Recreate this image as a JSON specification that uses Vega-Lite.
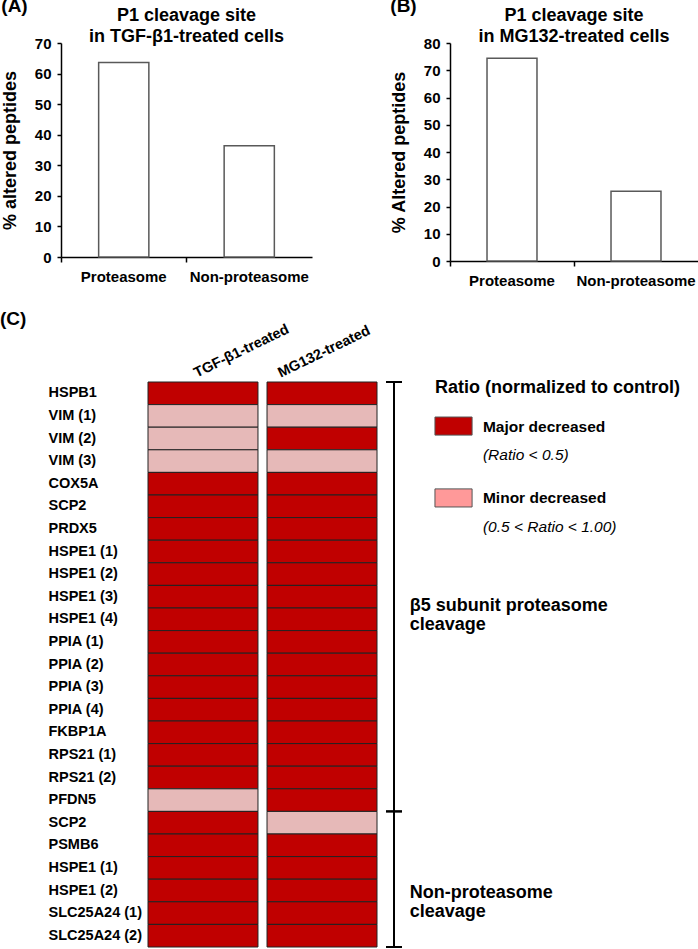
{
  "$schema": "https://vega.github.io/schema/vega-lite/v6.json",
  "padding": {"left": 0, "top": -3, "right": 0, "bottom": 0},
  "background": "white",
  "config": {
    "font": "Liberation Sans",
    "view": {"stroke": null},
    "axis": {"labelFont": "Liberation Sans", "titleFont": "Liberation Sans", "labelFontWeight": "bold", "titleFontWeight": "bold", "labelColor": "#000", "titleColor": "#000", "domainColor": "#000", "tickColor": "#000", "grid": false, "domainWidth": 1.5, "tickWidth": 1.5},
    "title": {"font": "Liberation Sans", "fontWeight": "bold", "color": "#000"},
    "text": {"font": "Liberation Sans"}
  },
  "datasets": {
    "peptides": [
      {"peptide": "HSPB1", "TGF-β1-treated": "Major", "MG132-treated": "Major"},
      {"peptide": "VIM (1)", "TGF-β1-treated": "Minor", "MG132-treated": "Minor"},
      {"peptide": "VIM (2)", "TGF-β1-treated": "Minor", "MG132-treated": "Major"},
      {"peptide": "VIM (3)", "TGF-β1-treated": "Minor", "MG132-treated": "Minor"},
      {"peptide": "COX5A", "TGF-β1-treated": "Major", "MG132-treated": "Major"},
      {"peptide": "SCP2", "TGF-β1-treated": "Major", "MG132-treated": "Major"},
      {"peptide": "PRDX5", "TGF-β1-treated": "Major", "MG132-treated": "Major"},
      {"peptide": "HSPE1 (1)", "TGF-β1-treated": "Major", "MG132-treated": "Major"},
      {"peptide": "HSPE1 (2)", "TGF-β1-treated": "Major", "MG132-treated": "Major"},
      {"peptide": "HSPE1 (3)", "TGF-β1-treated": "Major", "MG132-treated": "Major"},
      {"peptide": "HSPE1 (4)", "TGF-β1-treated": "Major", "MG132-treated": "Major"},
      {"peptide": "PPIA (1)", "TGF-β1-treated": "Major", "MG132-treated": "Major"},
      {"peptide": "PPIA (2)", "TGF-β1-treated": "Major", "MG132-treated": "Major"},
      {"peptide": "PPIA (3)", "TGF-β1-treated": "Major", "MG132-treated": "Major"},
      {"peptide": "PPIA (4)", "TGF-β1-treated": "Major", "MG132-treated": "Major"},
      {"peptide": "FKBP1A", "TGF-β1-treated": "Major", "MG132-treated": "Major"},
      {"peptide": "RPS21 (1)", "TGF-β1-treated": "Major", "MG132-treated": "Major"},
      {"peptide": "RPS21 (2)", "TGF-β1-treated": "Major", "MG132-treated": "Major"},
      {"peptide": "PFDN5", "TGF-β1-treated": "Minor", "MG132-treated": "Major"},
      {"peptide": "SCP2#2", "TGF-β1-treated": "Major", "MG132-treated": "Minor"},
      {"peptide": "PSMB6", "TGF-β1-treated": "Major", "MG132-treated": "Major"},
      {"peptide": "HSPE1 (1)#2", "TGF-β1-treated": "Major", "MG132-treated": "Major"},
      {"peptide": "HSPE1 (2)#2", "TGF-β1-treated": "Major", "MG132-treated": "Major"},
      {"peptide": "SLC25A24 (1)", "TGF-β1-treated": "Major", "MG132-treated": "Major"},
      {"peptide": "SLC25A24 (2)", "TGF-β1-treated": "Major", "MG132-treated": "Major"}
    ]
  },
  "columns": 1,
  "align": "none",
  "spacing": 21,
  "concat": [
    {
      "spacing": 78,
      "hconcat": [
        {
          "title": {"text": "(A)", "anchor": "start", "frame": "bounds", "fontSize": 19, "offset": -9},
          "vconcat": [
            {
              "title": {"text": ["P1 cleavage site", "in TGF-β1-treated cells"], "fontSize": 18, "lineHeight": 21, "anchor": "middle", "offset": -10},
              "width": 251,
              "height": 214,
              "data": {"values": [{"site": "Proteasome", "pct": 63.6}, {"site": "Non-proteasome", "pct": 36.4}]},
              "mark": {"type": "bar", "width": {"band": 0.4}, "fill": "white", "stroke": "#595959", "strokeWidth": 1.5},
              "encoding": {
                "x": {"field": "site", "type": "nominal", "sort": null, "scale": {"paddingInner": 0, "paddingOuter": 0},
                  "axis": {"title": null, "labelAngle": 0, "bandPosition": 0, "tickSize": 5, "labelPadding": 7, "labelFontSize": 15}},
                "y": {"field": "pct", "type": "quantitative", "scale": {"domain": [0, 70], "nice": false},
                  "axis": {"title": "% altered peptides", "values": [0, 10, 20, 30, 40, 50, 60, 70], "tickSize": 4, "labelPadding": 6, "labelFontSize": 15, "titleFontSize": 18, "titlePadding": 15}}
              }
            }
          ]
        },
        {
          "title": {"text": "(B)", "anchor": "start", "frame": "bounds", "fontSize": 19, "offset": -9},
          "vconcat": [
            {
              "title": {"text": ["P1 cleavage site", "in MG132-treated cells"], "fontSize": 18, "lineHeight": 21, "anchor": "middle", "offset": -10},
              "width": 248,
              "height": 218,
              "data": {"values": [{"site": "Proteasome", "pct": 74.4}, {"site": "Non-proteasome", "pct": 25.6}]},
              "mark": {"type": "bar", "width": {"band": 0.403}, "fill": "white", "stroke": "#595959", "strokeWidth": 1.5},
              "encoding": {
                "x": {"field": "site", "type": "nominal", "sort": null, "scale": {"paddingInner": 0, "paddingOuter": 0},
                  "axis": {"title": null, "labelAngle": 0, "bandPosition": 0, "tickSize": 5, "labelPadding": 7, "labelFontSize": 15}},
                "y": {"field": "pct", "type": "quantitative", "scale": {"domain": [0, 80], "nice": false},
                  "axis": {"title": "% Altered peptides", "values": [0, 10, 20, 30, 40, 50, 60, 70, 80], "tickSize": 4, "labelPadding": 6, "labelFontSize": 15, "titleFontSize": 18, "titlePadding": 15}}
              }
            }
          ]
        }
      ]
    },
    {
      "title": {"text": "(C)", "anchor": "start", "frame": "bounds", "fontSize": 19, "offset": -8, "dx": -48},
      "spacing": 0,
      "hconcat": [
        {
          "width": 86,
          "height": 565,
          "data": {"name": "peptides"},
          "mark": {"type": "rect", "opacity": 0},
          "encoding": {
            "y": {"field": "peptide", "type": "nominal", "sort": null, "scale": {"paddingInner": 0, "paddingOuter": 0},
              "axis": {"title": null, "ticks": false, "tickSize": 0, "domain": false, "labelAlign": "left", "labelPadding": 13, "labelFontSize": 14.5, "labelExpr": "split(datum.value, '#')[0]"}}
          }
        },
        {
          "width": 229,
          "height": 565,
          "data": {"name": "peptides"},
          "transform": [{"fold": ["TGF-β1-treated", "MG132-treated"], "as": ["treatment", "level"]}],
          "mark": {"type": "rect", "stroke": "#222", "strokeWidth": 1},
          "encoding": {
            "x": {"field": "treatment", "type": "nominal", "sort": ["TGF-β1-treated", "MG132-treated"], "scale": {"paddingInner": 0.076, "paddingOuter": 0},
              "axis": {"orient": "top", "title": null, "labelAngle": -26, "ticks": false, "tickSize": 0, "domain": false, "labelPadding": 2, "labelFontSize": 14.5, "labelBaseline": "bottom", "labelAlign": "left",
                "labelOffset": {"condition": {"test": "datum.value === 'MG132-treated'", "value": -40}, "value": -5}}},
            "y": {"field": "peptide", "type": "nominal", "sort": null, "scale": {"paddingInner": 0, "paddingOuter": 0}, "axis": null},
            "color": {"field": "level", "type": "nominal", "scale": {"domain": ["Major", "Minor"], "range": ["#C00000", "#E6B9B8"]}, "legend": null}
          }
        },
        {
          "width": 320,
          "height": 565,
          "layer": [
            {
              "data": {"values": [{"cleavage": "β5 subunit proteasome cleavage", "start": 0, "end": 19}, {"cleavage": "Non-proteasome cleavage", "start": 19, "end": 25}]},
              "mark": {"type": "rule", "color": "#000", "strokeWidth": 2},
              "encoding": {
                "x": {"datum": 0.5, "type": "quantitative", "scale": {"domain": [0, 10], "nice": false, "zero": false}, "axis": null},
                "y": {"field": "start", "type": "quantitative", "scale": {"domain": [0, 25], "nice": false, "reverse": true}, "axis": null},
                "y2": {"field": "end"}
              }
            },
            {
              "data": {"values": [{"cleavage": "β5 subunit proteasome cleavage", "start": 0, "end": 19}, {"cleavage": "Non-proteasome cleavage", "start": 19, "end": 25}]},
              "mark": {"type": "rule", "color": "#000", "strokeWidth": 2},
              "encoding": {"x": {"datum": 0.25, "type": "quantitative"}, "x2": {"datum": 0.75}, "y": {"field": "start", "type": "quantitative"}}
            },
            {
              "data": {"values": [{"cleavage": "β5 subunit proteasome cleavage", "start": 0, "end": 19}, {"cleavage": "Non-proteasome cleavage", "start": 19, "end": 25}]},
              "mark": {"type": "rule", "color": "#000", "strokeWidth": 2},
              "encoding": {"x": {"datum": 0.25, "type": "quantitative"}, "x2": {"datum": 0.75}, "y": {"field": "end", "type": "quantitative"}}
            },
            {
              "data": {"values": [{"label": ["β5 subunit proteasome", "cleavage"]}]},
              "mark": {"type": "text", "align": "left", "baseline": "middle", "fontSize": 18, "fontWeight": "bold", "lineHeight": 19, "color": "#000"},
              "encoding": {"x": {"datum": 0.99, "type": "quantitative"}, "y": {"datum": 9.93, "type": "quantitative"}, "text": {"field": "label"}}
            },
            {
              "data": {"values": [{"label": ["Non-proteasome", "cleavage"]}]},
              "mark": {"type": "text", "align": "left", "baseline": "middle", "fontSize": 18, "fontWeight": "bold", "lineHeight": 19, "color": "#000"},
              "encoding": {"x": {"datum": 0.99, "type": "quantitative"}, "y": {"datum": 22.59, "type": "quantitative"}, "text": {"field": "label"}}
            },
            {
              "data": {"values": [{"label": "Ratio (normalized to control)"}]},
              "mark": {"type": "text", "align": "left", "baseline": "middle", "fontSize": 18, "fontWeight": "bold", "color": "#000"},
              "encoding": {"x": {"datum": 1.78, "type": "quantitative"}, "y": {"datum": 0.27, "type": "quantitative"}, "text": {"field": "label"}}
            },
            {
              "data": {"values": [{"level": "Major"}]},
              "mark": {"type": "rect", "fill": "#C00000", "stroke": "#555", "strokeWidth": 1},
              "encoding": {"x": {"datum": 1.78, "type": "quantitative"}, "x2": {"datum": 2.94}, "y": {"datum": 1.55, "type": "quantitative"}, "y2": {"datum": 2.35}}
            },
            {
              "data": {"values": [{"level": "Minor"}]},
              "mark": {"type": "rect", "fill": "#FF9999", "stroke": "#555", "strokeWidth": 1},
              "encoding": {"x": {"datum": 1.78, "type": "quantitative"}, "x2": {"datum": 2.94}, "y": {"datum": 4.73, "type": "quantitative"}, "y2": {"datum": 5.53}}
            },
            {
              "data": {"values": [{"label": "Major decreased"}]},
              "mark": {"type": "text", "align": "left", "baseline": "middle", "fontSize": 15.5, "fontWeight": "bold", "color": "#000"},
              "encoding": {"x": {"datum": 3.28, "type": "quantitative"}, "y": {"datum": 1.99, "type": "quantitative"}, "text": {"field": "label"}}
            },
            {
              "data": {"values": [{"label": "(Ratio < 0.5)"}]},
              "mark": {"type": "text", "align": "left", "baseline": "middle", "fontSize": 15.5, "fontStyle": "italic", "color": "#000"},
              "encoding": {"x": {"datum": 3.28, "type": "quantitative"}, "y": {"datum": 3.23, "type": "quantitative"}, "text": {"field": "label"}}
            },
            {
              "data": {"values": [{"label": "Minor decreased"}]},
              "mark": {"type": "text", "align": "left", "baseline": "middle", "fontSize": 15.5, "fontWeight": "bold", "color": "#000"},
              "encoding": {"x": {"datum": 3.28, "type": "quantitative"}, "y": {"datum": 5.13, "type": "quantitative"}, "text": {"field": "label"}}
            },
            {
              "data": {"values": [{"label": "(0.5 < Ratio < 1.00)"}]},
              "mark": {"type": "text", "align": "left", "baseline": "middle", "fontSize": 15.5, "fontStyle": "italic", "color": "#000"},
              "encoding": {"x": {"datum": 3.28, "type": "quantitative"}, "y": {"datum": 6.42, "type": "quantitative"}, "text": {"field": "label"}}
            }
          ]
        }
      ]
    }
  ]
}
